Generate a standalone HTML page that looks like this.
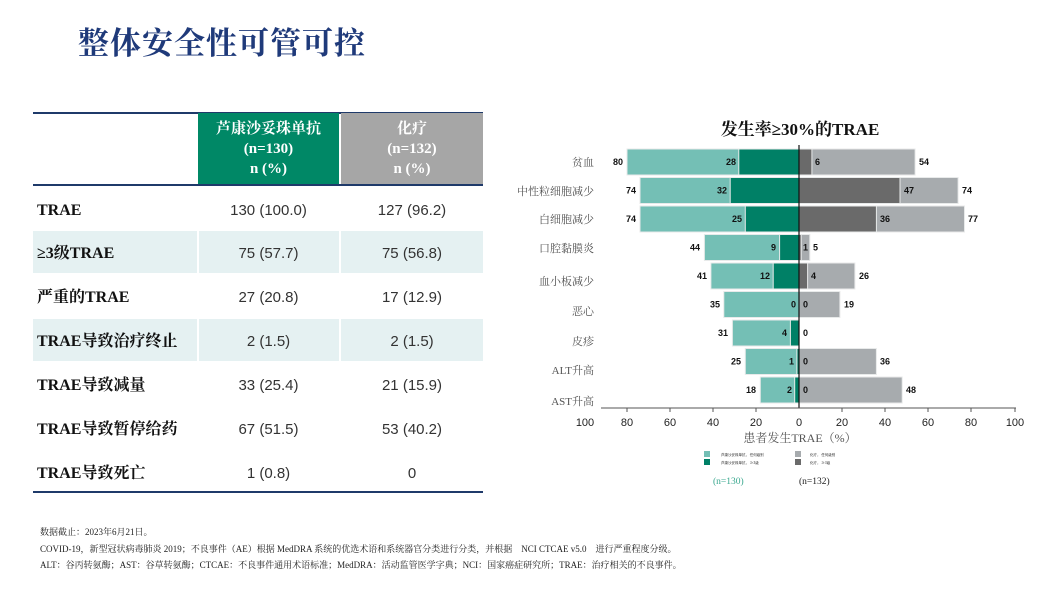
<!DOCTYPE html>
<html><head><meta charset="utf-8"><style>
body{margin:0;width:1042px;height:606px;background:#fff;position:relative;overflow:hidden;font-family:"Liberation Serif","Noto Serif CJK SC",serif}
.a{position:absolute}
.title{left:78px;top:18px;font-size:31px;font-weight:bold;color:#1f3a7a;letter-spacing:1px}
.hd{top:113px;height:72px;color:#fff;font-weight:bold;font-size:15px;text-align:center;line-height:20px;padding-top:6px;box-sizing:border-box}
.lbl{left:37px;font-weight:bold;font-size:16px;color:#111;line-height:20px;height:20px}
.num{font-family:"Liberation Sans",sans-serif;font-size:15px;color:#333;text-align:center;line-height:20px;height:20px}
.sh{background:#e5f1f2;height:42px}
.fn{left:40px;font-size:9px;color:#222}
</style></head><body>
<div class="a title">整体安全性可管可控</div>
<div class="a" style="left:33px;top:112px;width:450px;height:2px;background:#1f3a6a"></div>
<div class="a hd" style="left:198px;width:141px;background:#008866">芦康沙妥珠单抗<br>(n=130)<br>n (%)</div>
<div class="a hd" style="left:341px;width:142px;background:#a6a6a6">化疗<br>(n=132)<br>n (%)</div>
<div class="a" style="left:33px;top:184px;width:450px;height:2px;background:#1f3a6a"></div>
<div class="a sh" style="left:33px;top:231px;width:164px"></div><div class="a sh" style="left:199px;top:231px;width:140px"></div><div class="a sh" style="left:341px;top:231px;width:142px"></div>
<div class="a sh" style="left:33px;top:319px;width:164px"></div><div class="a sh" style="left:199px;top:319px;width:140px"></div><div class="a sh" style="left:341px;top:319px;width:142px"></div>
<div class="a" style="left:33px;top:491px;width:450px;height:2px;background:#1f3a6a"></div>

<div class="a lbl" style="top:201px">TRAE</div>
<div class="a lbl" style="top:244px">≥3级TRAE</div>
<div class="a lbl" style="top:288px">严重的TRAE</div>
<div class="a lbl" style="top:332px">TRAE导致治疗终止</div>
<div class="a lbl" style="top:376px">TRAE导致减量</div>
<div class="a lbl" style="top:420px">TRAE导致暂停给药</div>
<div class="a lbl" style="top:464px">TRAE导致死亡</div>

<div class="a num" style="left:198px;width:141px;top:201px">130 (100.0)</div><div class="a num" style="left:341px;width:142px;top:201px">127 (96.2)</div>
<div class="a num" style="left:198px;width:141px;top:244px">75 (57.7)</div><div class="a num" style="left:341px;width:142px;top:244px">75 (56.8)</div>
<div class="a num" style="left:198px;width:141px;top:288px">27 (20.8)</div><div class="a num" style="left:341px;width:142px;top:288px">17 (12.9)</div>
<div class="a num" style="left:198px;width:141px;top:332px">2 (1.5)</div><div class="a num" style="left:341px;width:142px;top:332px">2 (1.5)</div>
<div class="a num" style="left:198px;width:141px;top:376px">33 (25.4)</div><div class="a num" style="left:341px;width:142px;top:376px">21 (15.9)</div>
<div class="a num" style="left:198px;width:141px;top:420px">67 (51.5)</div><div class="a num" style="left:341px;width:142px;top:420px">53 (40.2)</div>
<div class="a num" style="left:198px;width:141px;top:464px">1 (0.8)</div><div class="a num" style="left:341px;width:142px;top:464px">0</div>

<svg class="a" style="left:0;top:0" width="1042" height="606">
<g font-family="Liberation Serif,Noto Serif CJK SC,serif">
<text x="800" y="135" text-anchor="middle" font-size="17" font-weight="bold" fill="#111">发生率≥30%的TRAE</text>
<g font-size="11" fill="#555" text-anchor="end">
<text x="594" y="166">贫血</text><text x="594" y="195">中性粒细胞减少</text><text x="594" y="223">白细胞减少</text><text x="594" y="252">口腔黏膜炎</text><text x="594" y="285">血小板减少</text><text x="594" y="315">恶心</text><text x="594" y="345">皮疹</text><text x="594" y="374">ALT升高</text><text x="594" y="405">AST升高</text>
</g></g>
<g stroke="#e8eaea" stroke-width="1">
<rect x="627" y="149" width="172" height="26" fill="#74bfb5"/><rect x="738.8" y="149" width="60.2" height="26" fill="#008066"/><rect x="799" y="149" width="116.1" height="26" fill="#a7abae"/><rect x="799" y="149" width="12.9" height="26" fill="#6a6a6a"/>
<rect x="640" y="177.5" width="159" height="26" fill="#74bfb5"/><rect x="730.2" y="177.5" width="68.8" height="26" fill="#008066"/><rect x="799" y="177.5" width="159.1" height="26" fill="#a7abae"/><rect x="799" y="177.5" width="101" height="26" fill="#6a6a6a"/>
<rect x="640" y="206" width="159" height="26" fill="#74bfb5"/><rect x="745.3" y="206" width="53.7" height="26" fill="#008066"/><rect x="799" y="206" width="165.5" height="26" fill="#a7abae"/><rect x="799" y="206" width="77.4" height="26" fill="#6a6a6a"/>
<rect x="704.4" y="234.5" width="94.6" height="26" fill="#74bfb5"/><rect x="779.6" y="234.5" width="19.4" height="26" fill="#008066"/><rect x="799" y="234.5" width="10.8" height="26" fill="#a7abae"/><rect x="799" y="234.5" width="2.2" height="26" fill="#6a6a6a"/>
<rect x="710.9" y="263" width="88.1" height="26" fill="#74bfb5"/><rect x="773.2" y="263" width="25.8" height="26" fill="#008066"/><rect x="799" y="263" width="55.9" height="26" fill="#a7abae"/><rect x="799" y="263" width="8.6" height="26" fill="#6a6a6a"/>
<rect x="723.8" y="291.5" width="75.2" height="26" fill="#74bfb5"/><rect x="799" y="291.5" width="40.9" height="26" fill="#a7abae"/>
<rect x="732.4" y="320" width="66.6" height="26" fill="#74bfb5"/><rect x="790.4" y="320" width="8.6" height="26" fill="#008066"/>
<rect x="745.3" y="348.5" width="53.7" height="26" fill="#74bfb5"/><rect x="796.9" y="348.5" width="2.1" height="26" fill="#008066"/><rect x="799" y="348.5" width="77.4" height="26" fill="#a7abae"/>
<rect x="760.3" y="377" width="38.7" height="26" fill="#74bfb5"/><rect x="794.7" y="377" width="4.3" height="26" fill="#008066"/><rect x="799" y="377" width="103.2" height="26" fill="#a7abae"/>
</g>
<line x1="799" y1="145" x2="799" y2="408" stroke="#111" stroke-width="1.2"/>
<g font-family="Liberation Sans,sans-serif" font-size="9" font-weight="bold" fill="#111">
<g text-anchor="end">
<text x="623" y="165">80</text><text x="736" y="165">28</text>
<text x="636" y="193.5">74</text><text x="727" y="193.5">32</text>
<text x="636" y="222">74</text><text x="742" y="222">25</text>
<text x="700" y="250.5">44</text><text x="776" y="250.5">9</text>
<text x="707" y="279">41</text><text x="770" y="279">12</text>
<text x="720" y="307.5">35</text><text x="796" y="307.5">0</text>
<text x="728" y="336">31</text><text x="787" y="336">4</text>
<text x="741" y="364.5">25</text><text x="794" y="364.5">1</text>
<text x="756" y="393">18</text><text x="792" y="393">2</text>
</g>
<text x="815" y="165">6</text><text x="919" y="165">54</text>
<text x="904" y="193.5">47</text><text x="962" y="193.5">74</text>
<text x="880" y="222">36</text><text x="968" y="222">77</text>
<text x="803" y="250.5">1</text><text x="813" y="250.5">5</text>
<text x="811" y="279">4</text><text x="859" y="279">26</text>
<text x="803" y="307.5">0</text><text x="844" y="307.5">19</text>
<text x="803" y="336">0</text>
<text x="803" y="364.5">0</text><text x="880" y="364.5">36</text>
<text x="803" y="393">0</text><text x="906" y="393">48</text>
</g>
<line x1="601" y1="408" x2="1016" y2="408" stroke="#555" stroke-width="1"/>
<g stroke="#555"><line x1="627" y1="408" x2="627" y2="412"/><line x1="670" y1="408" x2="670" y2="412"/><line x1="713" y1="408" x2="713" y2="412"/><line x1="756" y1="408" x2="756" y2="412"/><line x1="842" y1="408" x2="842" y2="412"/><line x1="885" y1="408" x2="885" y2="412"/><line x1="928" y1="408" x2="928" y2="412"/><line x1="971" y1="408" x2="971" y2="412"/><line x1="1015" y1="408" x2="1015" y2="412"/></g>
<g font-family="Liberation Sans,sans-serif" font-size="11" fill="#222" text-anchor="middle">
<text x="585" y="426">100</text><text x="627" y="426">80</text><text x="670" y="426">60</text><text x="713" y="426">40</text><text x="756" y="426">20</text><text x="799" y="426">0</text><text x="842" y="426">20</text><text x="885" y="426">40</text><text x="928" y="426">60</text><text x="971" y="426">80</text><text x="1015" y="426">100</text>
</g>
<text x="800" y="442" text-anchor="middle" font-family="Liberation Serif,Noto Serif CJK SC,serif" font-size="12" fill="#555">患者发生TRAE（%）</text>
<rect x="704" y="451" width="6" height="6" fill="#74bfb5"/><rect x="704" y="459" width="6" height="6" fill="#008066"/>
<rect x="795" y="451" width="6" height="6" fill="#a7abae"/><rect x="795" y="459" width="6" height="6" fill="#6a6a6a"/>
<g font-family="Noto Sans CJK SC,sans-serif" font-size="3.5" fill="#333">
<text x="721" y="456">芦康沙妥珠单抗，  任何级别</text><text x="721" y="464">芦康沙妥珠单抗，  ≥3级</text>
<text x="810" y="456">化疗，  任何级别</text><text x="810" y="464">化疗，  ≥3级</text>
</g>
<g font-family="Liberation Serif,serif" font-size="9.5"><text x="713" y="484" fill="#3aa88f">(n=130)</text><text x="799" y="484" fill="#222">(n=132)</text></g>
</svg>
<div class="a fn" style="top:525px">数据截止：2023年6月21日。</div>
<div class="a fn" style="top:542px">COVID-19，新型冠状病毒肺炎 2019；不良事件（AE）根据 MedDRA 系统的优选术语和系统器官分类进行分类，并根据　NCI CTCAE v5.0　进行严重程度分级。</div>
<div class="a fn" style="top:558px">ALT：谷丙转氨酶；AST：谷草转氨酶；CTCAE：不良事件通用术语标准；MedDRA：活动监管医学字典；NCI：国家癌症研究所；TRAE：治疗相关的不良事件。</div>
</body></html>
